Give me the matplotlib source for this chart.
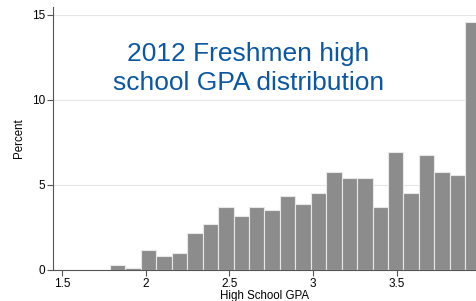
import numpy as np
import matplotlib.pyplot as plt

# bins: 24 equal-width bins ending at 4.0
bin_left = 1.787
bin_width = (4.0 - bin_left) / 24
percent = [0.29, 0.12, 1.16, 0.82, 0.98, 2.16, 2.68, 3.68, 3.17, 3.68,
           3.53, 4.35, 3.88, 4.54, 5.74, 5.39, 5.39, 3.70, 6.91, 4.54,
           6.74, 5.74, 5.56, 14.57]
xticks = [1.5, 2, 2.5, 3, 3.5]
xtick_labels = ["1.5", "2", "2.5", "3", "3.5"]
yticks = [0, 5, 10, 15]

plt.rcParams['font.family'] = ['Liberation Sans', 'DejaVu Sans']

fig = plt.figure(figsize=(4.76, 3.01), dpi=100)
ax = fig.add_axes([0.111, 0.103, 0.889, 0.875])

lefts = bin_left + bin_width * np.arange(len(percent))
ax.bar(lefts, percent, width=bin_width, align='edge', color='#8c8c8c',
       edgecolor='#e8e8e8', linewidth=0.8, zorder=2)

ax.set_xlim(1.446, 3.972)
ax.set_ylim(0, 15.47)
ax.set_xticks(xticks)
ax.set_xticklabels(xtick_labels)
ax.set_yticks(yticks)
ax.tick_params(labelsize=8.5, length=4, width=0.8, color='#555555', pad=1.5)
ax.yaxis.grid(True, color='#e6e6e6', linewidth=0.8, zorder=0)
ax.set_axisbelow(True)
for s in ['top', 'right']:
    ax.spines[s].set_visible(False)
for s in ['left', 'bottom']:
    ax.spines[s].set_color('#555555')
    ax.spines[s].set_linewidth(0.8)

ax.set_xlabel('High School GPA', fontsize=8.3, labelpad=0)
ax.set_ylabel('Percent', fontsize=8.3, labelpad=5)

fig.text(0.522, 0.773, '2012 Freshmen high\nschool GPA distribution',
         ha='center', va='center', fontsize=19, color='#0b57a4',
         linespacing=1.25)

fig.savefig('out.png', dpi=100)
